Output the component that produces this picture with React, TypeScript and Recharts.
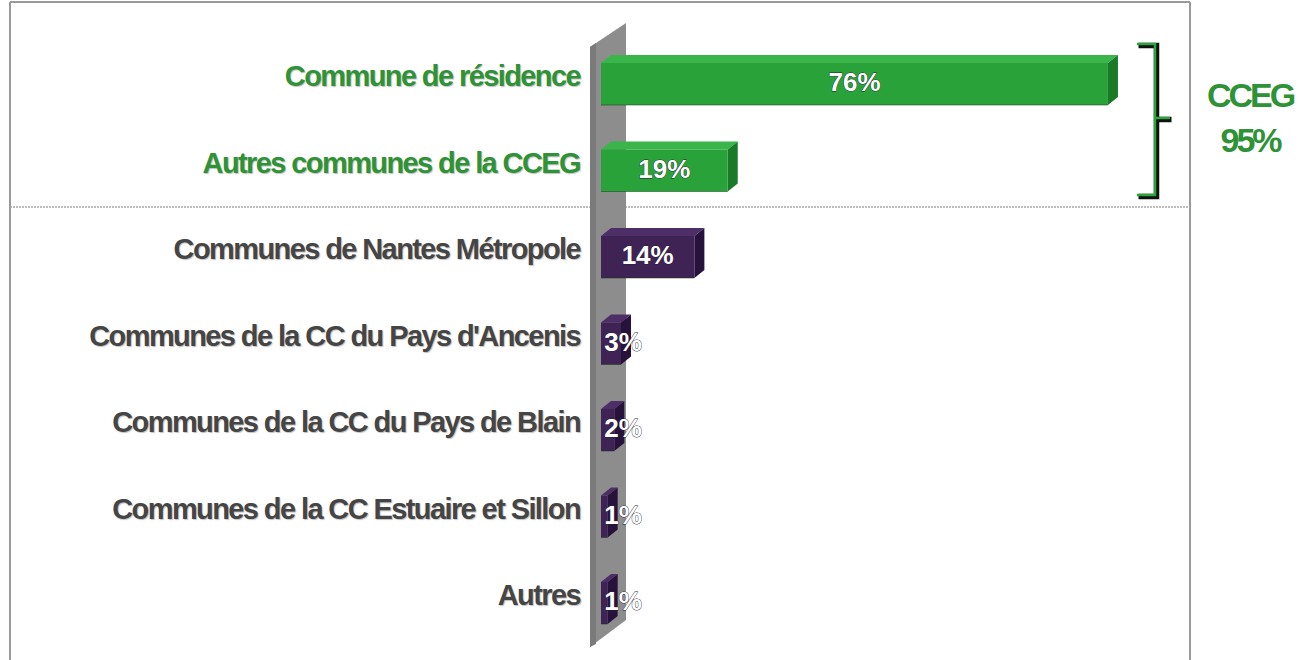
import React from 'react';
import { BarChart, Bar, XAxis, YAxis, Cell, LabelList, Customized } from 'recharts';

const categories = [
  'Commune de résidence',
  'Autres communes de la CCEG',
  'Communes de Nantes Métropole',
  "Communes de la CC du Pays d'Ancenis",
  'Communes de la CC du Pays de Blain',
  'Communes de la CC Estuaire et Sillon',
  'Autres',
];
const values = [76, 19, 14, 3, 2, 1, 1];
const inCCEG = [true, true, false, false, false, false, false];
const groupLabel = 'CCEG';
const groupTotal = '95%';

const data = categories.map((name, i) => ({ name, value: values[i], cceg: inCCEG[i] }));

const GREEN = { front: '#29a23a', top: '#3ab54a', side: '#1a7a28', text: '#2e9236' };
const PURPLE = { front: '#3e2354', top: '#4d2e66', side: '#26123a', text: '#454545' };
const DX = 10;
const DY = 8;
const FONT = '"Liberation Sans", Arial, sans-serif';

const Bar3D = (props: any) => {
  const { x, y, width, height, payload } = props;
  const c = payload.cceg ? GREEN : PURPLE;
  const w = Math.max(width, 0);
  const fy = y + DY;
  const fh = height - DY;
  return (
    <g>
      <polygon
        points={`${x},${fy} ${x + DX},${y} ${x + w + DX},${y} ${x + w},${fy}`}
        fill={c.top}
      />
      <polygon
        points={`${x + w},${fy} ${x + w + DX},${y} ${x + w + DX},${y + fh} ${x + w},${y + height}`}
        fill={c.side}
      />
      <rect x={x} y={fy} width={w} height={fh} fill={c.front} />
      <line x1={x} y1={y + height} x2={x + w} y2={y + height} stroke="#0d3d14" strokeOpacity={0.5} />
    </g>
  );
};

const ValueLabel = (props: any) => {
  const { x, y, width, height, value } = props;
  const cx = Math.max(x + width / 2, x + 22);
  const cy = y + DY + (height - DY) / 2 - 2;
  return (
    <text
      x={cx}
      y={cy}
      textAnchor="middle"
      dominantBaseline="central"
      fill="#ffffff"
      stroke="#2a2035"
      strokeWidth={0.8}
      paintOrder="stroke"
      fontFamily={FONT}
      fontWeight="bold"
      fontSize={26}
    >
      {value}%
    </text>
  );
};

const CategoryTick = (props: any) => {
  const { x, y, payload, index } = props;
  const green = inCCEG[index];
  return (
    <text
      x={x}
      y={y - 4}
      textAnchor="end"
      dominantBaseline="central"
      fill={green ? GREEN.text : PURPLE.text}
      fontFamily={FONT}
      fontWeight="bold"
      fontSize={29}
      letterSpacing={-1.6}
      style={{ textShadow: '1px 1px 1px rgba(0,0,0,0.25)' }}
    >
      {payload.value}
    </text>
  );
};

const Decor = () => (
  <g>
    {/* frame */}
    <line x1={10} y1={2} x2={10} y2={660} stroke="#9a9a9a" strokeWidth={2} />
    <line x1={10} y1={2} x2={1190} y2={2} stroke="#9a9a9a" strokeWidth={2} />
    <line x1={1190} y1={2} x2={1190} y2={660} stroke="#9a9a9a" strokeWidth={2} />
    {/* separator */}
    <line x1={10} y1={207} x2={1190} y2={207} stroke="#a8a8a8" strokeWidth={1.5} strokeDasharray="2 1" />
    {/* wall */}
    <polygon points="590,47 626,23 626,620 590,647" fill="#8d8d8d" />
    <polygon points="590,47 596,43 596,644 590,647" fill="#7a7a7a" />
    {/* bracket */}
    <path d="M1137,44 L1155,44 L1155,118 L1170,118 M1155,118 L1155,195 L1137,195" fill="none" stroke="#111" strokeWidth={5.5} transform="translate(1.5,1.5)" />
    <path d="M1137,44 L1155,44 L1155,118 L1170,118 M1155,118 L1155,195 L1137,195" fill="none" stroke="#2ca33c" strokeWidth={2.5} />
    <text x={1250} y={107} textAnchor="middle" fill={GREEN.text} fontFamily={FONT} fontWeight="bold" fontSize={34} letterSpacing={-3}>
      {groupLabel}
    </text>
    <text x={1250} y={152} textAnchor="middle" fill={GREEN.text} fontFamily={FONT} fontWeight="bold" fontSize={34} letterSpacing={-3}>
      {groupTotal}
    </text>
  </g>
);

export default function App() {
  return (
    <div style={{ position: 'absolute', left: 0, top: 0, width: 1299, height: 660, background: '#fff' }}>
      <BarChart
        width={1299}
        height={660}
        data={data}
        layout="vertical"
        margin={{ top: 37, right: 111, bottom: 17.5, left: 0 }}
        barCategoryGap={0}
      >
        <Customized component={Decor} />
        <XAxis type="number" domain={[0, 88]} hide />
        <YAxis
          type="category"
          dataKey="name"
          width={601}
          axisLine={false}
          tickLine={false}
          tickSize={0}
          tickMargin={21}
          tick={<CategoryTick />}
          interval={0}
        />
        <Bar dataKey="value" barSize={50} shape={<Bar3D />} isAnimationActive={false}>
          {data.map((d, i) => (
            <Cell key={i} fill={d.cceg ? GREEN.front : PURPLE.front} />
          ))}
          <LabelList dataKey="value" content={<ValueLabel />} />
        </Bar>
      </BarChart>
    </div>
  );
}
